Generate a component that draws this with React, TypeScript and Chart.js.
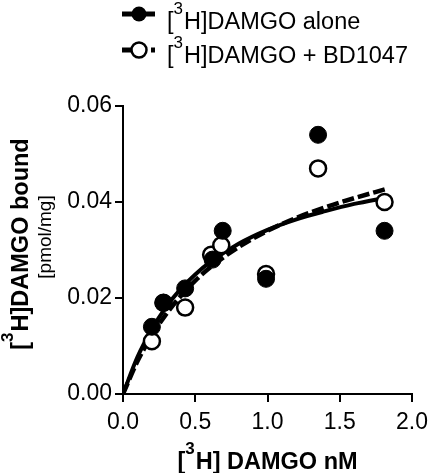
import React, { useEffect, useRef } from "react";
import { Chart, registerables } from "chart.js";

Chart.register(...registerables);

// ---- data ----
const aloneX = [0.2, 0.28, 0.43, 0.62, 0.69, 0.99, 1.35, 1.81];
const aloneY = [0.014, 0.019, 0.022, 0.028, 0.034, 0.024, 0.054, 0.034];
const bdX = [0.2, 0.28, 0.43, 0.61, 0.68, 0.99, 1.35, 1.81];
const bdY = [0.011, 0.019, 0.018, 0.029, 0.031, 0.025, 0.047, 0.04];

const fitX = [0, 0.1, 0.2, 0.3, 0.4, 0.5, 0.6, 0.8, 1.0, 1.2, 1.4, 1.6, 1.82];
const fitAloneY = [0, 0.0077, 0.0135, 0.0182, 0.0219, 0.0249, 0.0274, 0.0313, 0.0342, 0.0364, 0.0381, 0.0396, 0.0409];
const fitBdY = [0, 0.0068, 0.0122, 0.0167, 0.0204, 0.0236, 0.0263, 0.0306, 0.034, 0.0367, 0.0389, 0.0408, 0.0427];

const xTicks = [0, 0.5, 1.0, 1.5, 2.0];
const yTicks = [0, 0.02, 0.04, 0.06];

const legendLabels = ["[^3H]DAMGO alone", "[^3H]DAMGO + BD1047"];
const xTitle = "[^3H] DAMGO nM";
const yTitle = "[^3H]DAMGO bound";
const yUnit = "[pmol/mg]";

const FONT = "'Liberation Sans', Arial, Helvetica, sans-serif";

function pts(xs: number[], ys: number[]) {
  return xs.map((x, i) => ({ x, y: ys[i] }));
}

function drawRich(
  ctx: CanvasRenderingContext2D,
  text: string,
  x: number,
  y: number,
  size: number,
  weight: string,
  align: "left" | "center"
) {
  const parts = text.split(/\^(\d)/);
  const supSize = Math.round(size * 0.72);
  const segs: { t: string; sup: boolean; w: number }[] = [];
  parts.forEach((p, i) => {
    if (!p) return;
    const sup = i % 2 === 1;
    ctx.font = `${weight} ${sup ? supSize : size}px ${FONT}`;
    segs.push({ t: p, sup, w: ctx.measureText(p).width + (sup ? 1 : 0) });
  });
  const total = segs.reduce((a, s) => a + s.w, 0);
  let cx = align === "center" ? x - total / 2 : x;
  ctx.textAlign = "left";
  ctx.textBaseline = "alphabetic";
  for (const s of segs) {
    ctx.font = `${weight} ${s.sup ? supSize : size}px ${FONT}`;
    ctx.fillText(s.t, cx, s.sup ? y - size * 0.63 : y);
    cx += s.w;
  }
}

const decorPlugin = {
  id: "decor",
  afterDraw(chart: any) {
    const ctx = chart.ctx as CanvasRenderingContext2D;
    const area = chart.chartArea;
    ctx.save();
    ctx.fillStyle = "#000";
    // x title
    drawRich(ctx, xTitle, (area.left + area.right) / 2, 469, 23.5, "bold", "center");
    // y title (rotated)
    ctx.save();
    ctx.translate(28, 244);
    ctx.rotate(-Math.PI / 2);
    drawRich(ctx, yTitle, 0, 0, 23.5, "bold", "center");
    ctx.restore();
    ctx.save();
    ctx.translate(51, 237);
    ctx.rotate(-Math.PI / 2);
    ctx.font = `normal 19px ${FONT}`;
    ctx.textAlign = "center";
    ctx.textBaseline = "alphabetic";
    ctx.fillText(yUnit, 0, 0);
    ctx.restore();

    // legend
    const items = [
      { y: 14, ty: 29, text: legendLabels[0], filled: true, dash: [] as number[] },
      { y: 50, ty: 63, text: legendLabels[1], filled: false, dash: [13, 16] },
    ];
    for (const it of items) {
      ctx.save();
      ctx.strokeStyle = "#000";
      ctx.lineWidth = 5;
      ctx.setLineDash(it.dash);
      ctx.beginPath();
      ctx.moveTo(122, it.y);
      ctx.lineTo(155, it.y);
      ctx.stroke();
      ctx.setLineDash([]);
      ctx.beginPath();
      ctx.arc(139, it.y, 7.5, 0, Math.PI * 2);
      if (it.filled) {
        ctx.fillStyle = "#000";
        ctx.fill();
      } else {
        ctx.fillStyle = "#fff";
        ctx.fill();
        ctx.lineWidth = 2.5;
        ctx.stroke();
      }
      ctx.restore();
      ctx.fillStyle = "#000";
      drawRich(ctx, it.text, 167, it.ty, 23.5, "normal", "left");
    }
    ctx.restore();
  },
};

export default function App() {
  const ref = useRef<HTMLCanvasElement | null>(null);
  useEffect(() => {
    if (!ref.current) return;
    const chart = new Chart(ref.current, {
      type: "line",
      data: {
        datasets: [
          {
            label: legendLabels[0],
            data: pts(aloneX, aloneY),
            showLine: false,
            pointRadius: 8.5,
            pointBackgroundColor: "#000",
            pointBorderColor: "#000",
            pointBorderWidth: 1,
            order: 0,
          },
          {
            label: legendLabels[1],
            data: pts(bdX, bdY),
            showLine: false,
            pointRadius: 8,
            pointBackgroundColor: "#fff",
            pointBorderColor: "#000",
            pointBorderWidth: 2.5,
            order: 1,
          },
          {
            label: "fit BD1047",
            data: pts(fitX, fitBdY),
            borderColor: "#000",
            borderWidth: 4.5,
            borderDash: [12, 4],
            pointRadius: 0,
            cubicInterpolationMode: "monotone",
            fill: false,
            order: 2,
          },
          {
            label: "fit alone",
            data: pts(fitX, fitAloneY),
            borderColor: "#000",
            borderWidth: 4,
            pointRadius: 0,
            cubicInterpolationMode: "monotone",
            fill: false,
            order: 3,
          },
        ],
      },
      options: {
        responsive: false,
        animation: false,
        devicePixelRatio: 1,
        layout: { padding: { top: 106, right: 0, left: 0, bottom: 0 } },
        plugins: { legend: { display: false }, tooltip: { enabled: false } },
        scales: {
          x: {
            type: "linear",
            min: 0,
            max: 2,
            afterFit: (s: any) => {
              s.height = 79;
              s.paddingLeft = 0;
              s.paddingRight = 16;
            },
            afterBuildTicks: (s: any) => {
              s.ticks = xTicks.map((v) => ({ value: v }));
            },
            ticks: {
              color: "#000",
              font: { family: FONT, size: 23 },
              padding: 7,
              maxRotation: 0,
              callback: (v: any) => Number(v).toFixed(1),
            },
            grid: { drawOnChartArea: false, color: "#000", lineWidth: 2, tickLength: 8 },
            border: { display: true, color: "#000", width: 2 },
          },
          y: {
            type: "linear",
            min: 0,
            max: 0.06,
            afterFit: (s: any) => {
              s.width = 123;
              s.paddingTop = 0;
              s.paddingBottom = 0;
            },
            afterBuildTicks: (s: any) => {
              s.ticks = yTicks.map((v) => ({ value: v }));
            },
            ticks: {
              color: "#000",
              font: { family: FONT, size: 23 },
              padding: 3,
              callback: (v: any) => Number(v).toFixed(2),
            },
            grid: { drawOnChartArea: false, color: "#000", lineWidth: 2, tickLength: 8 },
            border: { display: true, color: "#000", width: 2 },
          },
        },
      } as any,
      plugins: [decorPlugin],
    });
    return () => chart.destroy();
  }, []);
  return (
    <div style={{ position: "absolute", left: 0, top: 0, width: 428, height: 473, background: "#fff" }}>
      <canvas ref={ref} width={428} height={473} style={{ width: 428, height: 473, display: "block" }} />
    </div>
  );
}
